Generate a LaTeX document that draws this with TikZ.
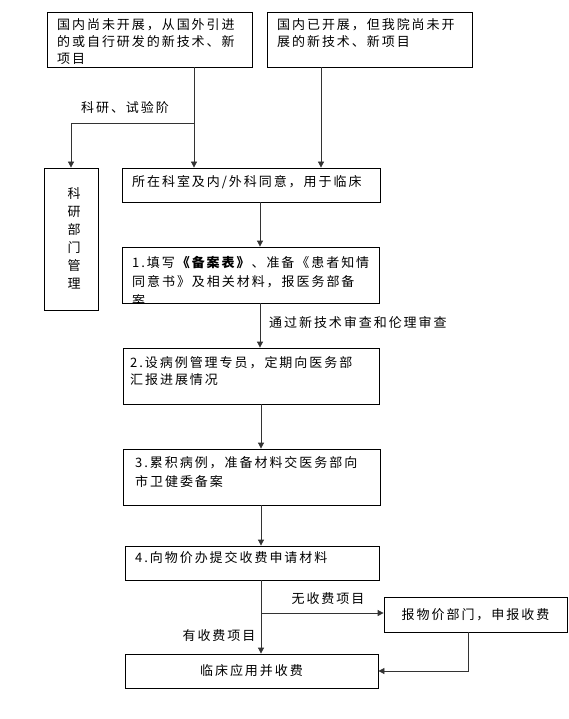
\documentclass[tikz,border=0pt]{standalone}
\usepackage{fontspec}
\setmainfont[LetterSpace=15]{Noto Sans CJK SC}
\usetikzlibrary{arrows.meta}
\tikzset{
  pbox/.style={draw, line width=0.8pt, inner sep=0pt},
  txt/.style={anchor=north west, inner sep=0pt, align=left, font=\fontsize{13pt}{17pt}\selectfont},
  lbl/.style={inner sep=0pt, font=\fontsize{13pt}{17pt}\selectfont},
  arr/.style={line width=0.8pt, draw=black!80, -{Triangle[width=6pt,length=6pt]}}
}
\begin{document}
\begin{tikzpicture}[x=1pt,y=-1pt]
\useasboundingbox (0,0) rectangle (568,719);
\node[pbox, minimum width=205, minimum height=55] (a) at (149.5,39.5) {};
\node[pbox, minimum width=205, minimum height=55] (b) at (369.5,39.5) {};
\node[pbox, minimum width=258, minimum height=34] (c) at (251,185) {};
\node[pbox, minimum width=54, minimum height=142] (d) at (71,239) {};
\node[pbox, minimum width=257, minimum height=56] (e) at (250.5,275) {};
\node[pbox, minimum width=256, minimum height=56] (f) at (251,376) {};
\node[pbox, minimum width=257, minimum height=56] (g) at (251.5,477) {};
\node[pbox, minimum width=254, minimum height=34] (h) at (252,563) {};
\node[pbox, minimum width=183, minimum height=35] (i) at (475.5,614.5) {};
\node[pbox, minimum width=253, minimum height=34] (j) at (251.5,671) {};
\node[txt] (ta) at (57,18) {国内尚未开展，从国外引进\\的或自行研发的新技术、新\\项目};
\node[txt] (tb) at (277,18) {国内已开展，但我院尚未开\\展的新技术、新项目};
\node[txt] (tc) at (132,175) {所在科室及内/外科同意，用于临床};
\node[lbl, align=center, font=\fontsize{13pt}{18pt}\selectfont] (td) at (74,238) {科\\研\\部\\门\\管\\理};
\begin{scope}
\clip (e.north west) rectangle (e.south east);
\node[txt, font=\fontsize{13pt}{19pt}\selectfont] (te) at (132,256) {1.填写\textbf{《备案表》}、准备《患者知情\\同意书》及相关材料，报医务部备\\案};
\end{scope}
\node[txt] (tf) at (130,356) {2.设病例管理专员，定期向医务部\\汇报进展情况};
\node[txt, font=\fontsize{13pt}{19pt}\selectfont] (tg) at (135,456) {3.累积病例，准备材料交医务部向\\市卫健委备案};
\node[txt] (th) at (135,551) {4.向物价办提交收费申请材料};
\node[lbl] (ti) at (i) {报物价部门，申报收费};
\node[lbl] (tj) at (j) {临床应用并收费};
\coordinate (s1) at (194,123);
\coordinate (s2) at (321,0);
\coordinate (s3) at (260,0);
\coordinate (s4) at (261,613);
\coordinate (s5) at (468,0);
\draw[arr] (a.south -| s1) -- (c.north -| s1);
\draw[arr] (s1) -- (s1 -| d.north) -- (d.north);
\draw[arr] (b.south -| s2) -- (c.north -| s2);
\draw[arr] (c.south -| s3) -- (e.north -| s3);
\draw[arr] (e.south -| s3) -- (f.north -| s3);
\draw[arr] (f.south -| s4) -- (g.north -| s4);
\draw[arr] (g.south -| s4) -- (h.north -| s4);
\draw[arr] (h.south -| s4) -- (j.north -| s4);
\draw[arr] (s4) -- (i.west |- s4);
\draw[arr] (i.south -| s5) -- (j.east -| s5) -- (j.east);
\node[lbl] (l1) at (125,108) {科研、试验阶};
\node[lbl, anchor=west] (l2) at (269,323) {通过新技术审查和伦理审查};
\node[lbl] (l3) at (328,599) {无收费项目};
\node[lbl] (l4) at (219,636) {有收费项目};
\end{tikzpicture}
\end{document}
